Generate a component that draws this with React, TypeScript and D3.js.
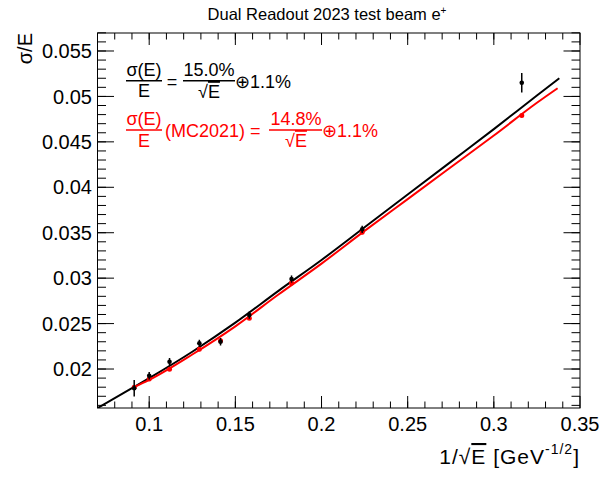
import React from "react";
import * as d3 from "d3";

// ---------- data ----------
const xTicks = [0.1, 0.15, 0.2, 0.25, 0.3, 0.35];
const yTicks = [0.02, 0.025, 0.03, 0.035, 0.04, 0.045, 0.05, 0.055];

// 1/sqrt(E) for E = 120, 100, 80, 60, 50, 40, 30, 20, 10 GeV
const pointX = [0.0913, 0.1, 0.1118, 0.1291, 0.1414, 0.1581, 0.1826, 0.2236, 0.3162];
const dataY = [0.01788, 0.01926, 0.0208, 0.02283, 0.023, 0.02594, 0.0299, 0.03537, 0.0515];
const dataErr = [0.0009, 0.0004, 0.0004, 0.0004, 0.0004, 0.0004, 0.0004, 0.0004, 0.00107];
const mcY = [0.018, 0.0189, 0.01997, 0.02217, 0.0231, 0.0256, 0.02946, 0.03504, 0.04791];
const mcErr = [0.0002, 0.0002, 0.0002, 0.0002, 0.0002, 0.0002, 0.0002, 0.0002, 0.0002];

// fit curves
const fitX = [0.07, 0.09, 0.1, 0.125, 0.15, 0.175, 0.2, 0.225, 0.25, 0.275, 0.3, 0.325, 0.338];
const fitBlack = [0.0157, 0.0179, 0.019, 0.0219, 0.0251, 0.0286, 0.032, 0.0356, 0.0392, 0.0428, 0.0464, 0.0501, 0.052];
const mcFitX = [0.0913, 0.1, 0.125, 0.15, 0.175, 0.2, 0.225, 0.25, 0.275, 0.3, 0.325, 0.337];
const fitRed = [0.018, 0.0188, 0.0216, 0.0247, 0.0282, 0.0316, 0.0352, 0.0387, 0.0422, 0.0457, 0.0493, 0.0509];

const title = "Dual Readout 2023 test beam e";

// ---------- layout ----------
const W = 603;
const H = 477;
const FL = 97.5, FR = 580, FT = 33, FB = 408;
const FONT = "'Liberation Sans', Arial, Helvetica, sans-serif";

export default function App() {
  const x = d3.scaleLinear().domain([0.07, 0.35]).range([FL, FR]);
  const y = d3.scaleLinear().domain([0.01571, 0.05698]).range([FB, FT]);

  const xMinor = d3.range(0.07, 0.3501, 0.01).filter((v) => v > 0.0701 && v < 0.3499);
  const yMinor = d3.range(0.016, 0.0571, 0.001);

  const line = d3
    .line<[number, number]>()
    .x((d) => x(d[0]))
    .y((d) => y(d[1]))
    .curve(d3.curveMonotoneX);

  const blackPath = line(fitX.map((v, i) => [v, fitBlack[i]] as [number, number])) || "";
  const redPath = line(mcFitX.map((v, i) => [v, fitRed[i]] as [number, number])) || "";

  const RED = "#ff0000";
  const lfs = 18;

  return (
    <svg
      width={W}
      height={H}
      style={{ position: "absolute", left: 0, top: 0, background: "#fff" }}
      fontFamily={FONT}
    >
      <rect x={0} y={0} width={W} height={H} fill="#fff" />
      <defs>
        <clipPath id="frameClip">
          <rect x={FL} y={FT} width={FR - FL} height={FB - FT} />
        </clipPath>
      </defs>

      {/* title */}
      <text x={327} y={20} fontSize={16.5} textAnchor="middle" fill="#000">
        {title}
        <tspan fontSize={10} dy={-6}>+</tspan>
      </text>

      {/* frame */}
      <rect x={FL} y={FT} width={FR - FL} height={FB - FT} fill="none" stroke="#000" strokeWidth={1} />

      {/* x ticks bottom & top */}
      {xTicks.map((t) => (
        <g key={"xt" + t}>
          <line x1={x(t)} x2={x(t)} y1={FB} y2={FB - 12} stroke="#000" />
          <line x1={x(t)} x2={x(t)} y1={FT} y2={FT + 12} stroke="#000" />
          <text x={x(t)} y={431} fontSize={20} textAnchor="middle" fill="#000">
            {String(t)}
          </text>
        </g>
      ))}
      {xMinor.map((t) => (
        <g key={"xm" + t}>
          <line x1={x(t)} x2={x(t)} y1={FB} y2={FB - 6.5} stroke="#000" />
          <line x1={x(t)} x2={x(t)} y1={FT} y2={FT + 6.5} stroke="#000" />
        </g>
      ))}

      {/* y ticks left & right */}
      {yTicks.map((t) => (
        <g key={"yt" + t}>
          <line x1={FL} x2={FL + 16.5} y1={y(t)} y2={y(t)} stroke="#000" />
          <line x1={FR} x2={FR - 16.5} y1={y(t)} y2={y(t)} stroke="#000" />
          <text x={92} y={y(t)} dy="0.36em" fontSize={20} textAnchor="end" fill="#000">
            {String(t)}
          </text>
        </g>
      ))}
      {yMinor.map((t) => (
        <g key={"ym" + t}>
          <line x1={FL} x2={FL + 8.5} y1={y(t)} y2={y(t)} stroke="#000" />
          <line x1={FR} x2={FR - 8.5} y1={y(t)} y2={y(t)} stroke="#000" />
        </g>
      ))}

      {/* axis titles */}
      <text x={0} y={0} transform={`translate(32,33) rotate(-90)`} fontSize={20} textAnchor="end" fill="#000">
        σ/E
      </text>
      <text x={580} y={464} fontSize={21} textAnchor="end" fill="#000" letterSpacing={1}>
        1/√<tspan style={{ textDecoration: "overline" }}>E</tspan> [GeV
        <tspan fontSize={14} dy={-10}>-1/2</tspan>
        <tspan dy={10}>]</tspan>
      </text>

      {/* curves */}
      <g clipPath="url(#frameClip)">
        <path d={blackPath} fill="none" stroke="#000" strokeWidth={2} />
        <path d={redPath} fill="none" stroke={RED} strokeWidth={2} />

        {/* MC points */}
        {pointX.map((v, i) => (
          <g key={"mc" + i}>
            <line x1={x(v)} x2={x(v)} y1={y(mcY[i] - mcErr[i])} y2={y(mcY[i] + mcErr[i])} stroke={RED} strokeWidth={1.5} />
            <circle cx={x(v)} cy={y(mcY[i])} r={2.5} fill={RED} />
          </g>
        ))}
        {/* data points */}
        {pointX.map((v, i) => (
          <g key={"d" + i}>
            <line x1={x(v)} x2={x(v)} y1={y(dataY[i] - dataErr[i])} y2={y(dataY[i] + dataErr[i])} stroke="#000" strokeWidth={1.5} />
            <circle cx={x(v)} cy={y(dataY[i])} r={2.3} fill="#000" />
          </g>
        ))}
      </g>

      {/* legend: data */}
      <g fill="#000" fontSize={lfs}>
        <text x={144} y={76} textAnchor="middle">σ(E)</text>
        <line x1={126} x2={162} y1={80.7} y2={80.7} stroke="#000" strokeWidth={1.5} />
        <text x={144} y={97} textAnchor="middle">E</text>
        <text x={172} y={88} textAnchor="middle">=</text>
        <text x={209} y={76} textAnchor="middle">15.0%</text>
        <line x1={183} x2={235} y1={80.7} y2={80.7} stroke="#000" strokeWidth={1.5} />
        <text x={209} y={98} textAnchor="middle">
          √<tspan style={{ textDecoration: "overline" }}>E</tspan>
        </text>
        <text x={235} y={88} textAnchor="start">⊕1.1%</text>
      </g>

      {/* legend: MC */}
      <g fill={RED} fontSize={lfs}>
        <text x={144} y={125} textAnchor="middle">σ(E)</text>
        <line x1={126} x2={162} y1={130} y2={130} stroke={RED} strokeWidth={1.5} />
        <text x={144} y={146.5} textAnchor="middle">E</text>
        <text x={165} y={137} textAnchor="start">(MC2021) =</text>
        <text x={296} y={125} textAnchor="middle">14.8%</text>
        <line x1={269} x2={322} y1={130} y2={130} stroke={RED} strokeWidth={1.5} />
        <text x={296} y={147} textAnchor="middle">
          √<tspan style={{ textDecoration: "overline" }}>E</tspan>
        </text>
        <text x={322} y={137} textAnchor="start">⊕1.1%</text>
      </g>
    </svg>
  );
}
